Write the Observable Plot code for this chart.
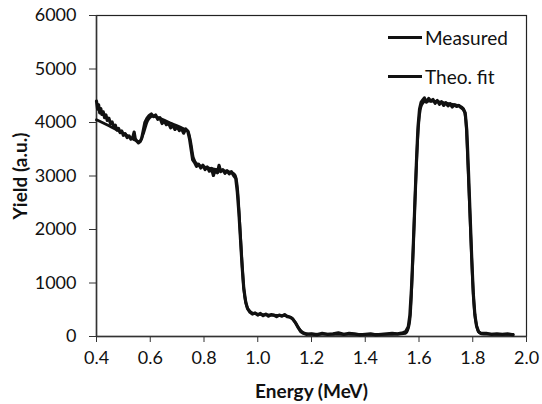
<!DOCTYPE html>
<html>
<head>
<meta charset="utf-8">
<script src="https://cdn.jsdelivr.net/npm/d3@7"></script>
<script src="https://cdn.jsdelivr.net/npm/@observablehq/plot@0.6"></script>
<style>
  html, body { margin: 0; padding: 0; background: #fff; }
  #wrap { position: relative; width: 542px; height: 404px; }
  #legend { position: absolute; left: 388px; top: 26px; font-family: Lato, "Open Sans", sans-serif; font-size: 19px; color: #111; }
  #legend .row { position: absolute; left: 0; white-space: nowrap; display: flex; align-items: center; }
  #legend .swatch { display: inline-block; width: 34px; height: 3px; background: #111; margin-right: 3px; }
</style>
</head>
<body>
<div id="wrap"></div>
<script>
// Measured spectrum (noisy)
const measuredEnergy = [
  0.400,0.404,0.408,0.412,0.416,0.420,0.425,0.430,0.435,0.440,0.446,0.452,0.458,0.464,0.470,0.476,0.482,0.488,0.494,0.500,
  0.507,0.514,0.521,0.528,0.535,0.540,0.544,0.550,0.556,0.562,0.568,0.574,0.580,0.588,0.596,0.604,0.612,0.620,0.628,0.636,
  0.644,0.652,0.660,0.668,0.676,0.684,0.692,0.700,0.708,0.716,0.724,0.732,0.740,0.746,0.752,0.758,0.765,0.772,0.780,0.788,
  0.796,0.804,0.812,0.820,0.828,0.835,0.842,0.850,0.856,0.862,0.870,0.878,0.886,0.894,0.902,0.910,0.918,0.924,0.930,0.936,
  0.942,0.948,0.955,0.962,0.970,0.980,0.990,1.000,1.010,1.020,1.030,1.040,1.050,1.060,1.070,1.080,1.090,1.100,1.110,1.120,
  1.130,1.140,1.150,1.160,1.170,1.180,1.200,1.220,1.240,1.260,1.280,1.300,1.320,1.340,1.360,1.380,1.400,1.420,1.440,1.460,
  1.480,1.500,1.520,1.540,1.550,1.560,1.566,1.572,1.578,1.584,1.590,1.596,1.602,1.608,1.614,1.620,1.628,1.636,1.644,1.652,
  1.660,1.668,1.676,1.684,1.692,1.700,1.708,1.716,1.724,1.732,1.740,1.748,1.756,1.764,1.772,1.778,1.784,1.790,1.796,1.802,
  1.808,1.814,1.822,1.830,1.850,1.870,1.890,1.910,1.930,1.950
];
const measuredYield = [
  4400,4250,4330,4180,4260,4150,4200,4090,4140,4040,4080,3980,4010,3920,3950,3860,3890,3810,3840,3760,
  3790,3720,3750,3690,3720,3820,3700,3650,3620,3640,3700,3850,4000,4080,4130,4160,4110,4140,4060,4090,
  3980,4030,3960,3990,3900,3950,3870,3920,3850,3890,3800,3880,3830,3700,3500,3300,3250,3180,3220,3150,
  3200,3120,3170,3090,3140,3010,3120,3060,3200,3080,3120,3050,3100,3040,3080,3010,2960,2700,2300,1800,
  1300,900,650,520,460,420,440,400,430,390,420,380,410,400,370,400,380,410,370,360,
  330,260,170,90,60,40,50,30,60,40,50,70,40,60,50,30,40,50,30,40,
  50,60,50,70,90,180,400,900,1600,2400,3200,3900,4250,4380,4420,4460,4380,4450,4400,4430,
  4360,4410,4340,4390,4320,4370,4310,4350,4290,4330,4300,4320,4280,4250,4180,3850,3100,2300,1500,800,
  400,200,90,60,60,40,50,40,50,30
];
// Theoretical fit (smooth)
const fitEnergy = [
  0.40,0.45,0.50,0.54,0.56,0.575,0.59,0.61,0.64,0.68,0.72,0.74,0.75,0.76,0.775,0.80,0.85,0.90,0.915,0.925,
  0.932,0.94,0.948,0.956,0.966,0.98,1.00,1.05,1.10,1.125,1.14,1.155,1.17,1.19,1.30,1.50,1.55,1.56,1.568,1.576,
  1.584,1.592,1.60,1.61,1.625,1.65,1.70,1.75,1.765,1.774,1.782,1.79,1.798,1.806,1.815,1.825,1.84,1.95
];
const fitYield = [
  4050,3930,3800,3680,3640,3800,4030,4120,4070,3980,3890,3840,3650,3350,3220,3170,3120,3070,3020,2750,
  2200,1500,900,620,500,440,420,400,390,350,260,140,70,45,40,40,60,150,420,1300,
  2400,3400,4050,4330,4400,4400,4360,4310,4260,4050,3200,2200,1200,500,180,70,45,40
];
const xTicks = [0.4,0.6,0.8,1.0,1.2,1.4,1.6,1.8,2.0];
const yTicks = [0,1000,2000,3000,4000,5000,6000];
const seriesNames = ["Measured","Theo. fit"];
const xTitle = "Energy (MeV)";
const yTitle = "Yield (a.u.)";

const measured = measuredEnergy.map((e,i)=>({e, y: measuredYield[i]}));
const fit = fitEnergy.map((e,i)=>({e, y: fitYield[i]}));

const chart = Plot.plot({
  width: 542, height: 404,
  marginLeft: 96, marginRight: 16, marginTop: 15, marginBottom: 68,
  style: { fontFamily: "Lato, 'Open Sans', sans-serif", fontSize: "18px", color: "#111", background: "#fff" },
  x: { domain: [0.4, 2.0] },
  y: { domain: [0, 6000] },
  marks: [
    Plot.frame({ stroke: "#222", strokeWidth: 1.2 }),
    Plot.axisX({ ticks: xTicks, tickFormat: d => d.toFixed(1), tickSize: 6, tickPadding: 9, label: null, fontSize: 18, stroke: "#333" }),
    Plot.axisY({ ticks: yTicks, tickFormat: d => String(d), tickSize: 7, tickPadding: 13, label: null, fontSize: 18, stroke: "#333" }),
    Plot.ruleY([0], { stroke: "#333", strokeWidth: 1.5 }),
    Plot.ruleX([0.4], { stroke: "#333", strokeWidth: 1.5 }),
    Plot.line(fit, { x: "e", y: "y", stroke: "#111", strokeWidth: 2.8, curve: "monotone-x" }),
    Plot.line(measured, { x: "e", y: "y", stroke: "#111", strokeWidth: 3.2, strokeLinejoin: "round" }),
    Plot.text([xTitle], { frameAnchor: "bottom", dy: 55, textAnchor: "middle", lineAnchor: "middle", fontWeight: "bold", fontSize: 19, fill: "#111" }),
    Plot.text([yTitle], { frameAnchor: "left", dx: -76, rotate: -90, textAnchor: "middle", lineAnchor: "middle", fontWeight: "bold", fontSize: 19, fill: "#111" })
  ]
});
const wrap = document.getElementById("wrap");
wrap.appendChild(chart);

const legend = document.createElement("div");
legend.id = "legend";
seriesNames.forEach((name, i) => {
  const row = document.createElement("div");
  row.className = "row";
  row.style.top = (i * 39) + "px";
  const sw = document.createElement("span");
  sw.className = "swatch";
  const label = document.createElement("span");
  label.textContent = name;
  row.appendChild(sw);
  row.appendChild(label);
  legend.appendChild(row);
});
wrap.appendChild(legend);
</script>
</body>
</html>
